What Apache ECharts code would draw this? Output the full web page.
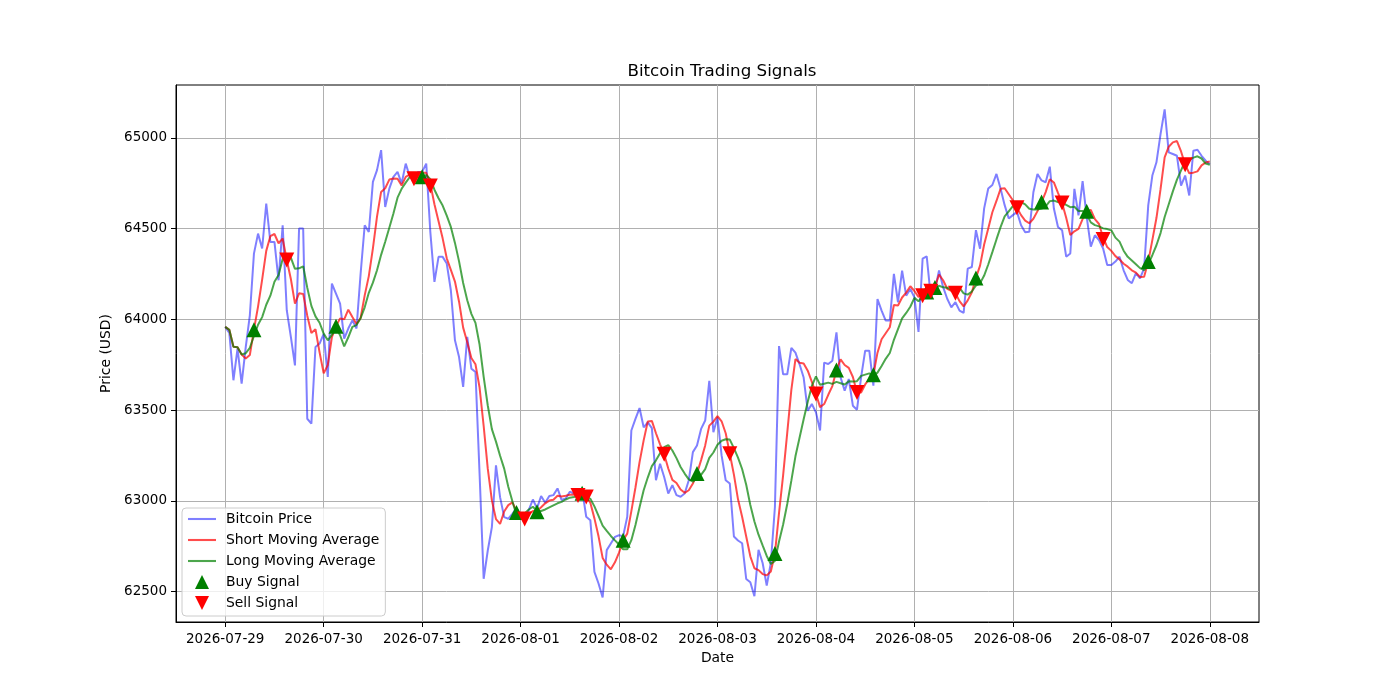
<!DOCTYPE html>
<html><head><meta charset="utf-8">
<script src="https://cdn.jsdelivr.net/npm/echarts@6/dist/echarts.min.js"></script>
<style>html,body{margin:0;padding:0;background:#fff}#c{width:1400px;height:700px}</style>
</head><body><div id="c"></div>
<script>
// hourly samples, hour 0 = 2026-07-29 00:00
const dateLabels = ['2026-07-29','2026-07-30','2026-07-31','2026-08-01','2026-08-02','2026-08-03','2026-08-04','2026-08-05','2026-08-06','2026-08-07','2026-08-08'];
const dateTickHours = [0,24,48,72,96,120,144,168,192,216,240];
const priceTicks = [62500,63000,63500,64000,64500,65000];

const price = [
63958,63925,63664,63838,63645,63847,64022,64362,64472,64390,
64638,64426,64426,64215,64518,64050,63903,63746,64500,64500,
63452,63425,63847,63866,63920,63682,64197,64142,64086,63893,
63949,63994,63949,64250,64518,64481,64757,64822,64932,64619,
64720,64785,64812,64748,64858,64785,64766,64812,64812,64858,
64480,64206,64344,64344,64307,64160,63884,63792,63627,63903,
63728,63710,63150,62570,62726,62855,63195,63020,62910,62901,
62928,62960,62920,62880,62950,63007,62958,63026,62989,63026,
63031,63068,63004,63013,63050,63040,63040,63062,62912,62893,
62608,62544,62467,62728,62765,62801,62810,62805,62912,63387,
63451,63511,63405,63432,63400,63113,63204,63131,63040,63086,
63031,63022,63040,63113,63268,63305,63396,63442,63661,63378,
63460,63250,63113,63095,62803,62781,62766,62569,62551,62474,
62730,62657,62533,62657,62967,63852,63697,63697,63843,63816,
63752,63679,63496,63533,63487,63387,63761,63754,63772,63928,
63680,63607,63671,63524,63502,63680,63827,63827,63634,64112,
64048,63993,63993,64250,64094,64268,64130,64167,64121,63930,
64334,64347,64122,64159,64269,64177,64113,64066,64094,64048,
64035,64279,64288,64491,64389,64611,64721,64740,64801,64721,
64629,64555,64574,64592,64518,64480,64482,64700,64801,64765,
64755,64841,64610,64509,64491,64345,64363,64719,64573,64761,
64564,64400,64463,64436,64390,64299,64299,64318,64345,64270,
64217,64199,64254,64226,64281,64628,64792,64865,65020,65157,
64920,64911,64901,64737,64792,64682,64929,64934,64901,64874,
64856];

const shortMA = [
63958,63942,63849,63846,63806,63784,63803,63943,64070,64219,
64377,64458,64470,64419,64445,64327,64222,64086,64143,64140,
64020,63925,63945,63818,63702,63748,63902,63961,64005,64000,
64053,64013,63974,64007,64132,64238,64391,64566,64702,64722,
64770,64776,64774,64737,64785,64798,64794,64794,64807,64807,
64746,64634,64540,64446,64336,64272,64208,64097,63954,63873,
63787,63752,63624,63412,63177,63002,62899,62873,62941,62976,
62991,62944,62924,62918,62928,62943,62943,62964,62986,63001,
63006,63028,63024,63028,63033,63035,63029,63041,63021,62989,
62903,62804,62685,62648,62622,62661,62714,62782,62819,62943,
63073,63213,63333,63437,63440,63372,63311,63256,63178,63115,
63098,63062,63044,63058,63095,63150,63224,63305,63414,63436,
63467,63438,63372,63259,63144,63008,62912,62803,62694,62628,
62618,62596,62589,62610,62709,62933,63141,63374,63611,63781,
63761,63757,63717,63655,63589,63516,63533,63584,63632,63720,
63779,63748,63732,63682,63597,63597,63641,63672,63694,63816,
63890,63923,63956,64079,64076,64120,64147,64182,64156,64123,
64136,64180,64171,64178,64246,64215,64168,64157,64144,64100,
64071,64104,64149,64228,64296,64412,64500,64590,64652,64719,
64722,64689,64656,64614,64574,64544,64529,64554,64596,64646,
64701,64772,64754,64696,64641,64559,64464,64485,64498,64552,
64596,64603,64552,64525,64451,64398,64377,64348,64330,64306,
64290,64270,64257,64233,64235,64318,64436,64558,64717,64892,
64951,64975,64982,64925,64852,64805,64808,64815,64848,64864,
64870];

const longMA = [
63958,63942,63849,63846,63806,63813,63843,63908,63970,64012,
64080,64130,64207,64244,64332,64352,64340,64278,64281,64292,
64174,64074,64016,63981,63921,63884,63914,63953,63912,63851,
63901,63958,63968,64006,64066,64146,64202,64270,64355,64427,
64504,64583,64670,64719,64753,64784,64785,64784,64772,64796,
64772,64714,64667,64627,64571,64509,64421,64319,64200,64105,
64030,63980,63861,63683,63525,63395,63326,63248,63177,63077,
62997,62922,62899,62930,62952,62967,62943,62944,62952,62964,
62975,62986,62994,63007,63017,63021,63029,63032,63025,63011,
62969,62917,62863,62834,62806,62782,62759,62733,62733,62783,
62867,62964,63058,63128,63191,63223,63262,63295,63307,63277,
63235,63186,63150,63118,63105,63124,63143,63174,63236,63266,
63309,63331,63339,63337,63290,63238,63175,63088,62977,62886,
62813,62754,62696,62652,62669,62776,62869,62982,63111,63245,
63347,63449,63546,63633,63685,63639,63645,63651,63644,63655,
63648,63641,63658,63657,63659,63688,63695,63702,63688,63706,
63743,63782,63814,63887,63946,64005,64035,64069,64118,64099,
64128,64163,64176,64167,64185,64176,64174,64164,64161,64173,
64143,64136,64153,64186,64198,64241,64302,64370,64440,64508,
64567,64595,64623,64633,64646,64633,64609,64605,64605,64610,
64622,64651,64654,64646,64643,64630,64618,64620,64597,64597,
64578,64534,64519,64512,64501,64497,64490,64450,64428,64378,
64344,64324,64303,64282,64271,64304,64353,64408,64475,64564,
64634,64705,64770,64821,64872,64878,64891,64898,64886,64858,
64852];

const buyHours  = [7,27,48,71,76,87,97,115,134,149,158,171,173,183,199,210,225];
const buyValues = [63943,63961,64785,62935,62940,63041,62782,63150,62709,63720,63694,64150,64175,64228,64646,64596,64318];
const sellHours  = [15,46,50,73,86,88,107,123,144,154,170,172,178,193,204,214,234];
const sellValues = [64327,64775,64735,62900,63029,63021,63256,63259,63589,63597,64130,64155,64144,64614,64641,64440,64852];

const FONT = 'DejaVu Sans';
const pairs = arr => arr.map((v, i) => [i, v]);
const zip = (xs, ys) => xs.map((x, i) => [x, ys[i]]);
const LINE_ICON = 'path://M0,0 L40,0 L40,3 L0,3 Z';
const UP_ICON = 'path://M5,0 L10,10 L0,10 Z';
const DOWN_ICON = 'path://M0,0 L10,0 L5,10 Z';

const chart = echarts.init(document.getElementById('c'), null, {renderer: 'canvas'});
chart.setOption({
  animation: false,
  backgroundColor: '#fff',
  textStyle: {fontFamily: FONT},
  title: {
    text: 'Bitcoin Trading Signals',
    left: 717, top: 58, textAlign: 'center',
    textStyle: {fontFamily: FONT, fontSize: 16.7, fontWeight: 'normal', color: '#000'}
  },
  grid: {left: 176, top: 85, width: 1083, height: 537, show: true, borderColor: '#000', borderWidth: 1, backgroundColor: 'transparent'},
  xAxis: {
    type: 'value', min: -12, max: 252,
    name: 'Date', nameLocation: 'middle', nameGap: 29,
    nameTextStyle: {fontFamily: FONT, fontSize: 13.9, color: '#000'},
    axisLine: {show: true, onZero: false, lineStyle: {color: '#000', width: 1}},
    axisTick: {show: true, length: 5, lineStyle: {color: '#000'}, customValues: dateTickHours},
    axisLabel: {customValues: dateTickHours, margin: 10, fontFamily: FONT, fontSize: 13.5, color: '#000',
      formatter: v => dateLabels[dateTickHours.indexOf(v)] || ''},
    splitLine: {show: true, lineStyle: {color: '#b0b0b0', width: 1}}
  },
  yAxis: {
    type: 'value', min: 62332, max: 65291,
    name: 'Price (USD)', nameLocation: 'middle', nameGap: 61, nameRotate: 90,
    nameTextStyle: {fontFamily: FONT, fontSize: 13.9, color: '#000'},
    axisLine: {show: true, onZero: false, lineStyle: {color: '#000', width: 1}},
    axisTick: {show: true, length: 5, lineStyle: {color: '#000'}, customValues: priceTicks},
    axisLabel: {customValues: priceTicks, margin: 9, fontFamily: FONT, fontSize: 13.5, color: '#000',
      formatter: v => String(v)},
    splitLine: {show: true, lineStyle: {color: '#b0b0b0', width: 1}}
  },
  legend: {
    orient: 'vertical', left: 182, top: 508,
    padding: [4, 6, 6, 6], itemGap: 7, itemWidth: 28, itemHeight: 14,
    symbolKeepAspect: true,
    backgroundColor: 'rgba(255,255,255,0.8)', borderColor: '#cccccc', borderWidth: 1, borderRadius: 4,
    textStyle: {fontFamily: FONT, fontSize: 13.9, color: '#000', padding: [0, 0, 0, 5]},
    data: [
      {name: 'Bitcoin Price', icon: LINE_ICON},
      {name: 'Short Moving Average', icon: LINE_ICON},
      {name: 'Long Moving Average', icon: LINE_ICON},
      {name: 'Buy Signal', icon: UP_ICON},
      {name: 'Sell Signal', icon: DOWN_ICON}
    ]
  },
  series: [
    {name: 'Bitcoin Price', type: 'line', data: pairs(price), symbol: 'none',
     lineStyle: {color: 'rgba(0,0,255,0.5)', width: 2}, itemStyle: {color: 'rgba(0,0,255,0.5)'}, z: 2},
    {name: 'Short Moving Average', type: 'line', data: pairs(shortMA), symbol: 'none',
     lineStyle: {color: 'rgba(255,0,0,0.7)', width: 2}, itemStyle: {color: 'rgba(255,0,0,0.7)'}, z: 2},
    {name: 'Long Moving Average', type: 'line', data: pairs(longMA), symbol: 'none',
     lineStyle: {color: 'rgba(0,128,0,0.7)', width: 2}, itemStyle: {color: 'rgba(0,128,0,0.7)'}, z: 2},
    {name: 'Buy Signal', type: 'scatter', data: zip(buyHours, buyValues), symbol: 'triangle', symbolSize: 15,
     itemStyle: {color: '#008000', opacity: 1}, z: 3},
    {name: 'Sell Signal', type: 'scatter', data: zip(sellHours, sellValues), symbol: 'triangle', symbolRotate: 180, symbolSize: 15,
     itemStyle: {color: '#ff0000', opacity: 1}, z: 4}
  ]
});
</script></body></html>
